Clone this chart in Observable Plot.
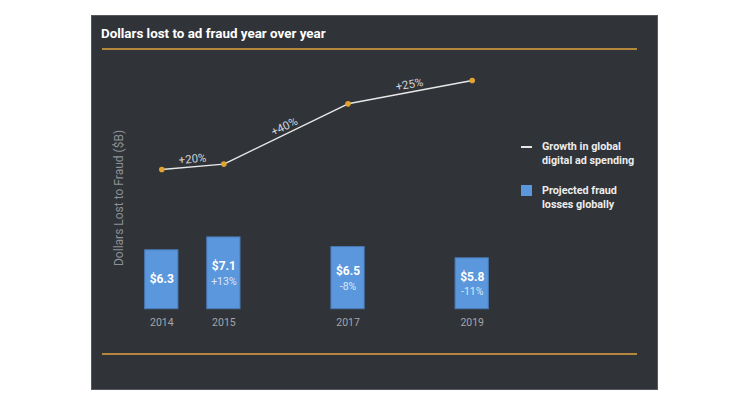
<!DOCTYPE html>
<html>
<head>
<meta charset="utf-8">
<script src="https://cdn.jsdelivr.net/npm/d3@7"></script>
<script src="https://cdn.jsdelivr.net/npm/@observablehq/plot@0.6"></script>
<style>
  html, body { margin: 0; padding: 0; background: #ffffff; }
  body { width: 750px; height: 403px; position: relative; overflow: hidden; font-family: Roboto, "Noto Sans", sans-serif; }
  #panel { position: absolute; left: 91px; top: 15px; width: 565px; height: 373px; background: #303338; border: 1px solid #55585c; }
  #title { position: absolute; left: 101px; top: 26px; font-size: 13.4px; font-weight: 700; color: #ffffff; white-space: nowrap; }
  .gold { position: absolute; left: 102px; width: 535px; height: 2px; background: #b4873c; }
  #chart { position: absolute; left: 0; top: 0; }
  .leg { position: absolute; left: 542px; font-size: 10.8px; font-weight: 700; color: #ececec; line-height: 14px; white-space: nowrap; }
  .legline { position: absolute; left: 521px; width: 11px; height: 1.5px; background: #e6e6e6; }
  .legbox { position: absolute; left: 521px; width: 11px; height: 11px; background: #5b97dc; }
</style>
</head>
<body>
<div id="panel"></div>
<div id="title">Dollars lost to ad fraud year over year</div>
<div class="gold" style="top:48px"></div>
<div class="gold" style="top:353px"></div>
<div id="chart"></div>
<div class="legline" style="top:146px"></div>
<div class="leg" style="top:140px">Growth in global<br>digital ad spending</div>
<div class="legbox" style="top:185px"></div>
<div class="leg" style="top:184px">Projected fraud<br>losses globally</div>
<script>
// ---- data ----
const years = [2014, 2015, 2017, 2019];
const fraudValues = [6.3, 7.1, 6.5, 5.8];           // $B, projected fraud losses
const fraudChange = ["", "+13%", "-8%", "-11%"];      // change vs previous bar
const spendLevel = [11.33, 11.66, 15.41, 16.86];     // growth line (chart units)
const spendGrowth = ["+20%", "+40%", "+25%"];         // growth between consecutive points
const barBase = 2.63;                                 // where bars start (truncated axis)
const yLabel = "Dollars Lost to Fraud ($B)";

const bars = years.map((year, i) => ({year, value: fraudValues[i], change: fraudChange[i]}));
const spend = years.map((year, i) => ({year, level: spendLevel[i]}));

const xDomain = [2014, 2019], xRange = [161.3, 471.7];
const yDomain = [0, 10], yRange = [351, 190.3];
const sx = d3.scaleLinear(xDomain, xRange), sy = d3.scaleLinear(yDomain, yRange);

const segs = spendGrowth.map((label, i) => {
  const a = spend[i], b = spend[i + 1];
  const ang = Math.atan2(sy(b.level) - sy(a.level), sx(b.year) - sx(a.year)) * 180 / Math.PI;
  return {label, year: (a.year + b.year) / 2, level: (a.level + b.level) / 2, rot: ang};
});

const chart = Plot.plot({
  width: 750,
  height: 403,
  marginLeft: 0, marginRight: 0, marginTop: 0, marginBottom: 94,
  style: {background: "transparent", overflow: "visible", fontFamily: "Roboto, 'Noto Sans', sans-serif"},
  x: {type: "linear", domain: xDomain, range: xRange},
  y: {domain: yDomain, range: yRange, axis: null},
  marks: [
    Plot.axisX({ticks: years, tickFormat: d => String(d), tickSize: 0, tickPadding: 9, fontSize: 10.5, color: "#a3a6ab", label: null}),
    Plot.rect(bars, {
      x1: d => d.year - 0.5, x2: d => d.year + 0.5,
      y1: barBase, y2: "value",
      insetLeft: 14.4, insetRight: 14.4,
      fill: "#5b97dc", stroke: "#4878b4", strokeWidth: 1
    }),
    Plot.text(bars.filter(d => !d.change), {
      x: "year", y: d => (barBase + d.value) / 2, text: d => "$" + d.value.toFixed(1),
      fill: "#ffffff", fontWeight: 700, fontSize: 12, dy: -1
    }),
    Plot.text(bars.filter(d => d.change), {
      x: "year", y: d => (barBase + d.value) / 2, text: d => "$" + d.value.toFixed(1),
      fill: "#ffffff", fontWeight: 700, fontSize: 12, dy: -7
    }),
    Plot.text(bars.filter(d => d.change), {
      x: "year", y: d => (barBase + d.value) / 2, text: "change",
      fill: "#dbe7f6", fontSize: 10.5, dy: 8
    }),
    Plot.line(spend, {x: "year", y: "level", stroke: "#e8e8e8", strokeWidth: 1.5}),
    Plot.dot(spend, {x: "year", y: "level", r: 2.8, fill: "#e2a431", stroke: "none"}),
    Plot.text(segs, {
      x: "year", y: "level", text: "label", rotate: "rot",
      lineAnchor: "bottom", dy: -4, fill: "#d2d4d6", fontSize: 11.5
    }),
    Plot.text([yLabel], {
      frameAnchor: "left", rotate: -90, dx: 119, dy: 111, fill: "#8d9196", fontSize: 12
    })
  ]
});
document.getElementById("chart").appendChild(chart);
</script>
</body>
</html>
